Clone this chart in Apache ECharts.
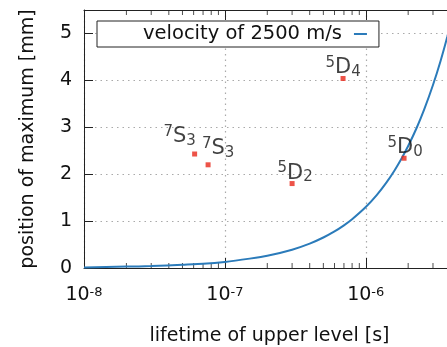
<!DOCTYPE html>
<html>
<head>
<meta charset="utf-8">
<script src="https://cdn.jsdelivr.net/npm/echarts@6/dist/echarts.min.js"></script>
<style>
  html, body { margin: 0; padding: 0; background: #fff; }
  #chart { width: 447px; height: 347px; }
</style>
</head>
<body>
<div id="chart"></div>
<script>
// curve: velocity of 2500 m/s
const curveTau = [1e-8, 2e-8, 3e-8, 5e-8, 7e-8, 1e-7, 1.5e-7, 2e-7, 3e-7, 4e-7, 5e-7, 6e-7, 7e-7, 8e-7,
  1e-6, 1.2e-6, 1.4e-6, 1.6e-6, 1.8e-6, 2e-6, 2.3e-6, 2.6e-6, 3e-6, 3.4e-6, 3.8e-6, 4.3e-6]
const curvePos = [0.01, 0.03, 0.04, 0.07, 0.09, 0.13, 0.2, 0.26, 0.39, 0.52, 0.65, 0.78, 0.91, 1.04,
  1.3, 1.56, 1.82, 2.08, 2.34, 2.6, 2.99, 3.38, 3.9, 4.42, 4.94, 5.59]

// measured levels
const levelSup = ['7', '7', '5', '5', '5']
const levelLetter = ['S', 'S', 'D', 'D', 'D']
const levelSub = ['3', '3', '2', '4', '0']
const levelTau = [6.1e-8, 7.6e-8, 3.0e-7, 6.9e-7, 1.87e-6]
const levelPos = [2.43, 2.20, 1.80, 4.04, 2.34]

// log axis minor ticks
const minorTickTau = [2e-8, 3e-8, 4e-8, 5e-8, 6e-8, 7e-8, 8e-8, 9e-8,
  2e-7, 3e-7, 4e-7, 5e-7, 6e-7, 7e-7, 8e-7, 9e-7, 2e-6, 3e-6, 4e-6]

const xMin = 1e-8
const xMax = 4.3e-6
const yMax = 5.5
const seriesName = 'velocity of 2500 m/s'

// label shifts (layout only)
const labelShift = [[-15, -3], [10, -2], [3, 4], [0, 4], [1, 4]]

const FONT = 'DejaVu Sans'
const chart = echarts.init(document.getElementById('chart'))

const gridLine = { show: true, lineStyle: { color: '#aaa', type: [1.5, 4], width: 1.2 } }

const option = {
  animation: false,
  textStyle: { fontFamily: FONT, color: '#111' },
  // plot runs a bit past the right edge of the picture
  grid: { left: 84, top: 10, width: 371, bottom: 79, containLabel: false, outerBoundsMode: 'none' },
  legend: {
    data: [{ name: seriesName, icon: 'rect' }],
    left: 97,
    top: 21,
    align: 'right',
    itemWidth: 13,
    itemHeight: 2,
    padding: [3, 12, 3, 46],
    backgroundColor: '#fff',
    borderColor: '#222',
    borderWidth: 1,
    borderRadius: 0,
    textStyle: { fontFamily: FONT, fontSize: 19.5, color: '#111', lineHeight: 20, padding: [0, 7, 0, 0] }
  },
  xAxis: [
    {
      type: 'log',
      min: xMin,
      max: xMax,
      name: 'lifetime of upper level [s]',
      nameLocation: 'middle',
      nameGap: 59,
      nameTextStyle: { fontFamily: FONT, fontSize: 19, color: '#111' },
      axisLine: { show: true, lineStyle: { color: '#222', width: 1 } },
      axisTick: { show: true, inside: true, length: 10, lineStyle: { color: '#222' } },
      axisLabel: {
        margin: 18,
        showMaxLabel: false,
        formatter: v => '{b|10}{s|' + Math.round(Math.log10(v)) + '}',
        rich: {
          b: { fontFamily: FONT, fontSize: 19, color: '#111' },
          s: { fontFamily: FONT, fontSize: 13, color: '#111', verticalAlign: 'top' }
        }
      },
      splitLine: gridLine
    },
    {
      type: 'log',
      min: xMin,
      max: xMax,
      position: 'top',
      axisLine: { show: true, lineStyle: { color: '#222', width: 1 } },
      axisTick: { show: true, inside: true, length: 10, lineStyle: { color: '#222' } },
      axisLabel: { show: false },
      splitLine: { show: false }
    }
  ],
  yAxis: {
    type: 'value',
    min: 0,
    max: yMax,
    interval: 1,
    name: 'position of maximum [mm]',
    nameLocation: 'middle',
    nameGap: 46,
    nameTextStyle: { fontFamily: FONT, fontSize: 19, color: '#111' },
    axisLine: { show: true, lineStyle: { color: '#222', width: 1 } },
    axisTick: { show: true, inside: true, length: 9, lineStyle: { color: '#222' } },
    axisLabel: { margin: 12, fontFamily: FONT, fontSize: 19, color: '#111', showMaxLabel: false },
    splitLine: gridLine
  },
  series: [
    {
      name: seriesName,
      type: 'line',
      data: curveTau.map((t, i) => [t, curvePos[i]]),
      symbol: 'none',
      smooth: 0.2,
      lineStyle: { color: '#2b7bba', width: 2 },
      itemStyle: { color: '#2b7bba' },
      z: 3
    },
    {
      name: 'levels',
      type: 'scatter',
      symbol: 'rect',
      symbolSize: 5,
      itemStyle: { color: '#e8281a' },
      data: levelTau.map((t, i) => ({
        value: [t, levelPos[i]],
        label: {
          offset: labelShift[i],
          formatter: '{sup|' + levelSup[i] + '}{main|' + levelLetter[i] + '}{sub|' + levelSub[i] + '}'
        }
      })),
      label: {
        show: true,
        position: 'top',
        distance: 0,
        rich: {
          sup: { fontFamily: FONT, fontSize: 15, color: '#111', verticalAlign: 'top' },
          main: { fontFamily: FONT, fontSize: 21, color: '#111', lineHeight: 24 },
          sub: { fontFamily: FONT, fontSize: 15, color: '#111', verticalAlign: 'bottom' }
        }
      },
      z: 4
    },
    {
      name: 'minor-bottom',
      type: 'scatter',
      silent: true,
      clip: false,
      symbol: 'rect',
      symbolSize: [1, 5],
      symbolOffset: [0, -2.5],
      itemStyle: { color: '#222' },
      data: minorTickTau.map(t => [t, 0])
    },
    {
      name: 'minor-top',
      type: 'scatter',
      silent: true,
      clip: false,
      symbol: 'rect',
      symbolSize: [1, 5],
      symbolOffset: [0, 2.5],
      itemStyle: { color: '#222' },
      data: minorTickTau.map(t => [t, yMax])
    }
  ]
}

chart.setOption(option)
</script>
</body>
</html>
